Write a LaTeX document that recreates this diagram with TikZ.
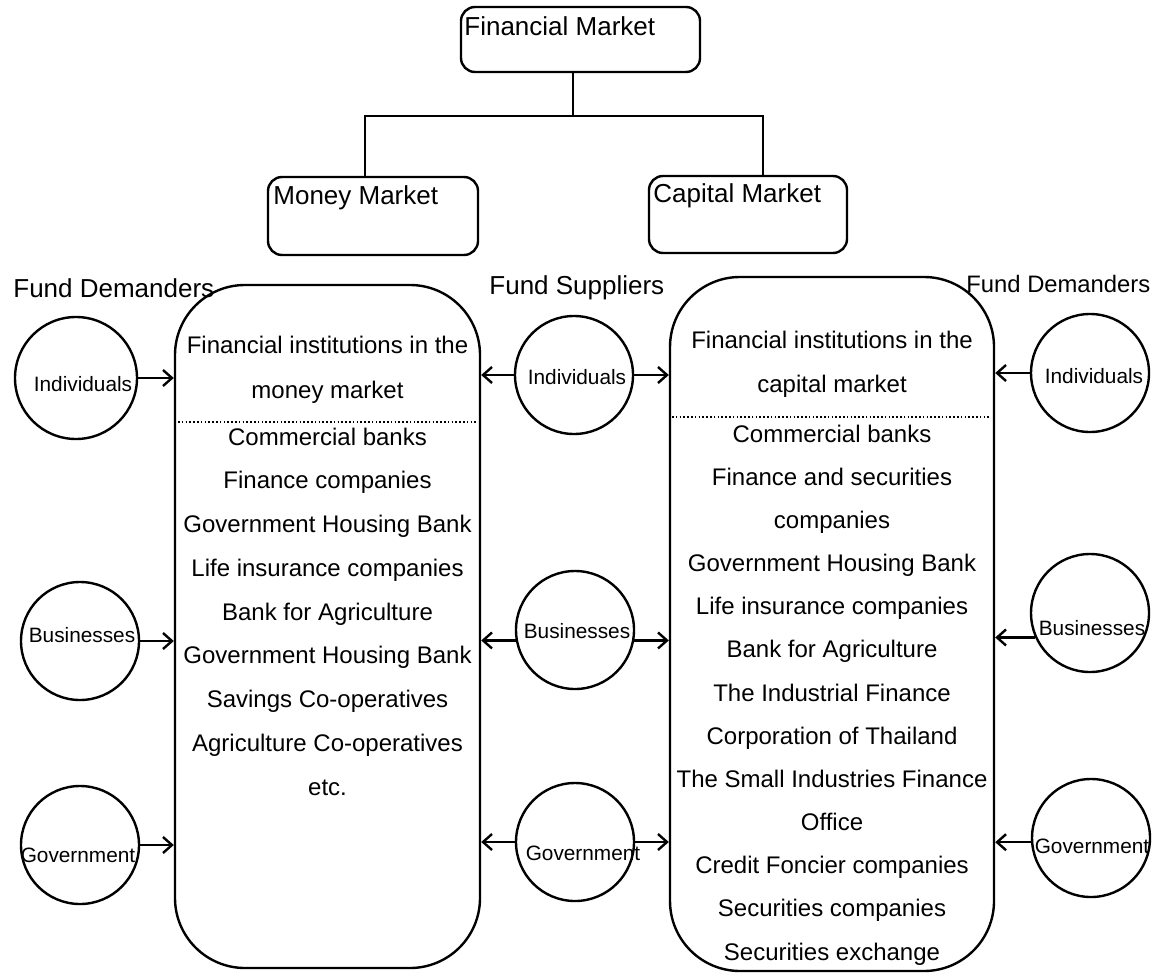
\documentclass[tikz,border=0pt]{standalone}
\usepackage{fontspec}
\setmainfont{Liberation Sans}
\usetikzlibrary{arrows.meta}

\tikzset{
  market/.style={draw, line width=1.2pt, rounded corners=7pt, inner sep=0pt},
  marketname/.style={anchor=base west, inner sep=0pt, font=\fontsize{13}{15}\selectfont},
  side/.style={anchor=base west, inner sep=0pt, font=\fontsize{13}{15}\selectfont},
  inst/.style={draw, line width=1.2pt, rounded corners=35pt, inner sep=0pt},
  item/.style={anchor=base, inner sep=0pt, font=\fontsize{12}{14}\selectfont},
  agent/.style={draw, circle, line width=1.2pt, minimum size=59pt, inner sep=0pt},
  agentname/.style={inner sep=0pt, font=\fontsize{10.4}{12}\selectfont},
  flow/.style={line width=1.2pt, -{Straight Barb[length=4.5pt,width=8pt]}},
  divider/.style={line width=0.8pt, dash pattern=on 0.8pt off 1.1pt}
}

\begin{document}
\begin{tikzpicture}[x=0.5pt,y=-0.5pt]
\useasboundingbox (0,0) rectangle (1154,973);

% market tree
\node[market, minimum width=119.5pt, minimum height=32.5pt] (fin) at (580.5,39.5) {};
\node[market, minimum width=105pt, minimum height=39pt] (mon) at (373,216) {};
\node[market, minimum width=99pt, minimum height=38.5pt] (cap) at (748,214.5) {};
\node[marketname] (fint) at (464,36) {Financial Market};
\node[marketname] (mont) at (273,205) {Money Market};
\node[marketname] (capt) at (653,203) {Capital Market};
\coordinate (fork) at (573,116);
\draw[line width=1.2pt] ([xshift=-3.75pt]fin.south) -- (fork);
\draw[line width=1.2pt] ([xshift=-4pt]mon.north) |- (fork) -| ([xshift=7.5pt]cap.north);

% headings
\node[side] (dem1) at (13,297) {Fund Demanders};
\node[side] (sup) at (489,294) {Fund Suppliers};
\node[side, font=\fontsize{11.9}{14}\selectfont] (dem2) at (966,292) {Fund Demanders};

% institutions
\node[inst, minimum width=152.5pt, minimum height=341.5pt] (mm) at (327.5,626.5) {};
\node[inst, minimum width=162pt, minimum height=347pt] (cm) at (832,624) {};

\node[item] (mmh1) at (327.5,353) {Financial institutions in the};
\node[item] (mmh2) at (327.5,398) {money market};
\draw[divider] (178,422) -- (477,422);
\foreach \txt [count=\i from 0] in {Commercial banks,Finance companies,Government Housing Bank,Life insurance companies,Bank for Agriculture,Government Housing Bank,Savings Co-operatives,Agriculture Co-operatives,etc.}
  \node[item] (mm\i) at (327.5,445+43.75*\i) {\txt};

\node[item] (cmh1) at (832,348) {Financial institutions in the};
\node[item] (cmh2) at (832,392) {capital market};
\draw[divider] (672,417) -- (991,417);
\foreach \txt [count=\i from 0] in {Commercial banks,Finance and securities,companies,Government Housing Bank,Life insurance companies,Bank for Agriculture,The Industrial Finance,Corporation of Thailand,The Small Industries Finance,Office,Credit Foncier companies,Securities companies,Securities exchange}
  \node[item] (cm\i) at (832,442+43.17*\i) {\txt};

% fund demanders and suppliers
\node[agent, minimum size=61pt] (ind1) at (76,378) {};
\node[agent] (bus1) at (80,641) {};
\node[agent] (gov1) at (80,845) {};
\node[agent] (ind2) at (574,375) {};
\node[agent] (bus2) at (575,630) {};
\node[agent] (gov2) at (575,842) {};
\node[agent] (ind3) at (1090,373) {};
\node[agent] (bus3) at (1090,613) {};
\node[agent] (gov3) at (1091,838) {};

\node[agentname] (ind1t) at ([shift={(7,6)}]ind1) {Individuals};
\node[agentname] (bus1t) at ([shift={(2,-6)}]bus1) {Businesses};
\node[agentname] (gov1t) at ([shift={(-2,10)}]gov1) {Government};
\node[agentname] (ind2t) at ([shift={(3,2)}]ind2) {Individuals};
\node[agentname] (bus2t) at ([shift={(2,1)}]bus2) {Businesses};
\node[agentname] (gov2t) at ([shift={(8,11)}]gov2) {Government};
\node[agentname] (ind3t) at ([shift={(4,3)}]ind3) {Individuals};
\node[agentname] (bus3t) at ([shift={(2,15)}]bus3) {Businesses};
\node[agentname] (gov3t) at ([shift={(1,8)}]gov3) {Government};

% flows
\draw[flow] (ind1.east) -- (mm.west |- ind1.east);
\draw[flow] (bus1.east) -- (mm.west |- bus1.east);
\draw[flow] (gov1.east) -- (mm.west |- gov1.east);
\draw[flow] (ind2.west) -- (mm.east |- ind2.west);
\draw[flow] (ind2.east) -- (cm.west |- ind2.east);
\draw[flow] (bus2.190) -- (mm.east |- bus2.190);
\draw[flow] (bus2.350) -- (cm.west |- bus2.350);
\draw[flow] (gov2.west) -- (mm.east |- gov2.west);
\draw[flow] (gov2.east) -- (cm.west |- gov2.east);
\draw[flow] (ind3.west) -- (cm.east |- ind3.west);
\draw[flow] (bus3.204) -- (cm.east |- bus3.204);
\draw[flow] (gov3.184) -- (cm.east |- gov3.184);
\end{tikzpicture}
\end{document}
